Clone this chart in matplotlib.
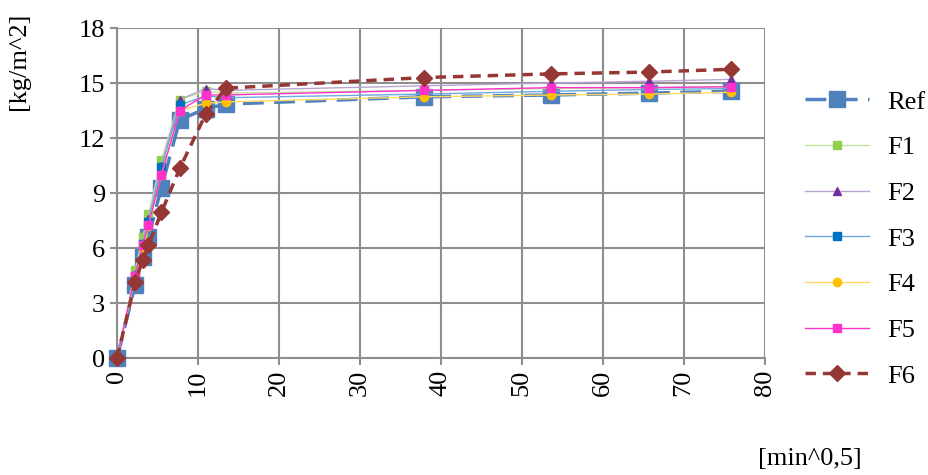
import matplotlib.pyplot as plt
import numpy as np

# time axis in sqrt(minutes): 5, 10, 15, 30, 60, 120, 180 min, then 1-4 days
x = [0, 2.24, 3.16, 3.87, 5.48, 7.75, 10.95, 13.42, 37.95, 53.67, 65.73, 75.89]

ref = [0, 4.0, 5.5, 6.6, 9.3, 13.0, 13.6, 13.85, 14.25, 14.35, 14.45, 14.55]
f1 = [0, 4.8, 6.6, 7.85, 10.8, 14.1, 14.55, 14.45, 14.6, 14.7, 14.75, 14.8]
f2 = [0, 4.6, 6.3, 7.6, 10.5, 14.1, 14.7, 14.6, 14.85, 15.0, 15.1, 15.2]
f3 = [0, 4.5, 6.2, 7.4, 10.4, 13.8, 14.3, 14.2, 14.4, 14.55, 14.65, 14.7]
f4 = [0, 4.4, 6.0, 7.2, 10.0, 13.5, 13.9, 13.97, 14.25, 14.35, 14.4, 14.5]
f5 = [0, 4.5, 6.15, 7.25, 10.0, 13.5, 14.35, 14.35, 14.6, 14.75, 14.75, 14.8]
f6 = [0, 4.15, 5.35, 6.15, 7.95, 10.35, 13.3, 14.72, 15.3, 15.5, 15.6, 15.75]

plt.rcParams['font.family'] = ['Liberation Serif', 'DejaVu Serif']

fig = plt.figure(figsize=(9.29, 4.75), dpi=100)
ax = fig.add_axes([0.126, 0.246, 0.697, 0.695])

grid_col = '#8e8e8e'
fs = 19

ax.plot(x, ref, color='#4f81bd', lw=2.5, dashes=(6, 3), marker='s', ms=11,
        mfc='#4f81bd', mec='#4f81bd', label='Ref', zorder=3, clip_on=False)
ax.plot(x, f1, color='#c3e29b', lw=1, marker='s', ms=6,
        mfc='#92d050', mec='#92d050', label='F1', zorder=4, clip_on=False)
ax.plot(x, f2, color='#b9a3d3', lw=1, marker='^', ms=6,
        mfc='#7030a0', mec='#7030a0', label='F2', zorder=4, clip_on=False)
ax.plot(x, f3, color='#6fa8dc', lw=1, marker='s', ms=6,
        mfc='#0070c0', mec='#0070c0', label='F3', zorder=4, clip_on=False)
ax.plot(x, f4, color='#ffd966', lw=1, marker='o', ms=6,
        mfc='#ffc000', mec='#ffc000', label='F4', zorder=4, clip_on=False)
ax.plot(x, f5, color='#ff33cc', lw=1, marker='s', ms=6,
        mfc='#ff33cc', mec='#ff33cc', label='F5', zorder=5, clip_on=False)
ax.plot(x, f6, color='#953735', lw=2.5, dashes=(3, 2), marker='D', ms=8,
        mfc='#953735', mec='#953735', label='F6', zorder=6, clip_on=False)

ax.set_xlim(0, 80)
ax.set_ylim(0, 18)
ax.set_xticks(np.arange(0, 81, 10))
ax.set_yticks(np.arange(0, 19, 3))
ax.grid(True, color=grid_col, lw=1.5)
ax.set_axisbelow(True)
for s in ['top', 'right']:
    ax.spines[s].set_visible(False)
for s in ['left', 'bottom']:
    ax.spines[s].set_color(grid_col)
    ax.spines[s].set_linewidth(1.5)
ax.tick_params(axis='both', colors=grid_col, width=1.5, length=5, labelsize=fs,
               labelcolor='black')
ax.tick_params(axis='x', rotation=90)

ax.set_ylabel('[kg/m^2]', fontsize=fs)
ax.yaxis.set_label_coords(-0.135, 0.9)
fig.text(0.872, 0.01, '[min^0,5]', fontsize=fs, ha='center', va='bottom')

ax.legend(loc='upper left', bbox_to_anchor=(0.867, 0.81),
          bbox_transform=fig.transFigure, frameon=False, borderpad=0,
          borderaxespad=0, fontsize=fs, handlelength=2.4, labelspacing=0.84,
          handletextpad=0.7)

fig.savefig('out.png', dpi=100)
